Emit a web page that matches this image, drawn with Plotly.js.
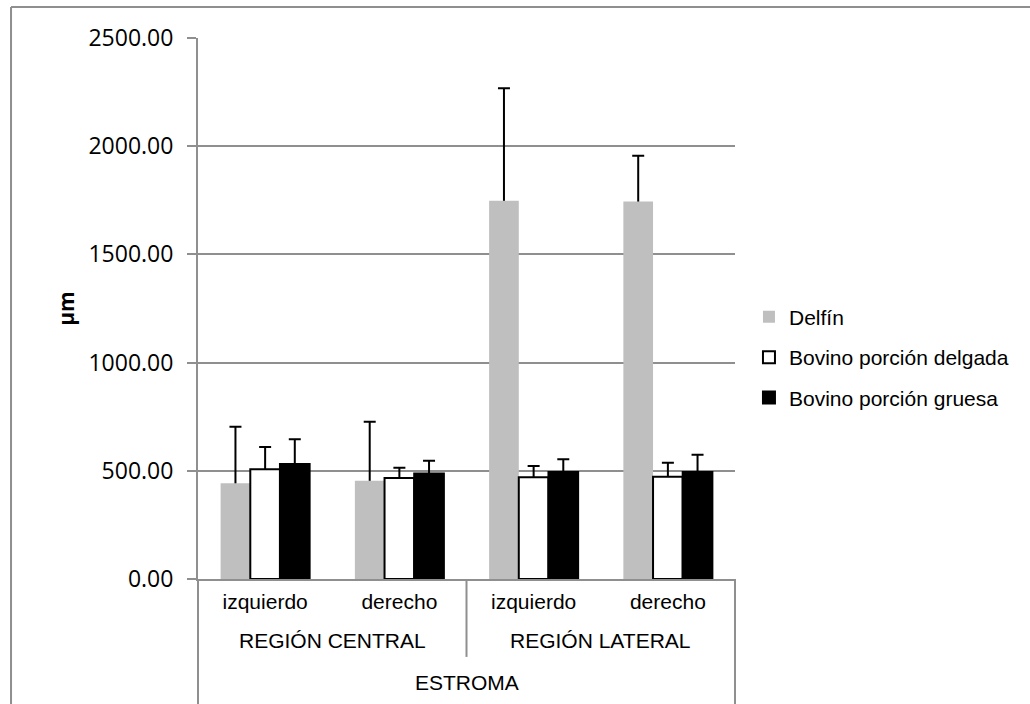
<!DOCTYPE html>
<html>
<head>
<meta charset="utf-8">
<script src="https://cdn.plot.ly/plotly-3.0.1.min.js"></script>
<style>
  html, body { margin: 0; padding: 0; background: #ffffff; }
  #chart { width: 1030px; height: 704px; }
</style>
</head>
<body>
<div id="chart"></div>
<script>
// ---- data ----
const regions = ["REGIÓN CENTRAL", "REGIÓN CENTRAL", "REGIÓN LATERAL", "REGIÓN LATERAL"];
const sides = ["izquierdo", "derecho", "izquierdo", "derecho"];
const outerGroup = "ESTROMA";
const seriesNames = ["Delfín", "Bovino porción delgada", "Bovino porción gruesa"];

const delfin = [442, 454, 1748, 1744];
const delfinErr = [262, 273, 520, 212];
const delgada = [507, 467, 470, 473];
const delgadaErr = [103, 47, 52, 64];
const gruesa = [531, 488, 494, 494];
const gruesaErr = [115, 59, 59, 80];

const yTickVals = [0, 500, 1000, 1500, 2000, 2500];
const yTitle = "µm";

// ---- styling ----
const GRID = "#8f8f8f";
const LABEL_FONT = { family: "Liberation Sans, Arial, sans-serif", size: 21, color: "#000" };
const fills = ["#bfbfbf", "#ffffff", "#000000"];
const borders = ["#bfbfbf", "#000000", "#000000"];
const borderW = [0, 2, 2];
const SHOE_HIDE = 10; // lower end of whisker tucked inside the bar so it is hidden
const REGION_ROW_Y = -0.1146;  // paper y of region label row
const REGION_DIV_Y = -0.144;   // paper y where region divider ends
const OUTER_ROW_Y = -0.1904;   // paper y of outer group label
const OUTER_DIV_Y = -0.2311;   // paper y where outer bracket ends

const values = [delfin, delgada, gruesa];
const errs = [delfinErr, delgadaErr, gruesaErr];
const idx = sides.map((_, i) => i);  // category positions on the x axis

const traces = [];
// error bars on the base subplot (bars invisible)
values.forEach((v, i) => {
  traces.push({
    type: "bar", x: idx, y: v, xaxis: "x", yaxis: "y",
    marker: { color: "rgba(0,0,0,0)", line: { width: 0 } },
    showlegend: false, hoverinfo: "skip",
    error_y: {
      type: "data", symmetric: false, array: errs[i],
      arrayminus: errs[i].map(() => SHOE_HIDE),
      color: "#000000", thickness: 2, width: 6
    }
  });
});
// visible bars on overlay subplot (drawn above the whisker feet)
values.forEach((v, i) => {
  traces.push({
    type: "bar", x: idx, y: v, xaxis: "x2", yaxis: "y2",
    name: seriesNames[i], legendgroup: "g" + i,
    marker: { color: fills[i], line: { color: borders[i], width: borderW[i] } }
  });
});

// region grouping: label centres and dividers derived from the category list
const regionGroups = [];
regions.forEach((r, i) => {
  const last = regionGroups[regionGroups.length - 1];
  if (last && last.name === r) last.end = i;
  else regionGroups.push({ name: r, start: i, end: i });
});
const annotations = regionGroups.map(g => ({
  text: g.name, xref: "x", yref: "paper", x: (g.start + g.end) / 2, y: REGION_ROW_Y,
  xanchor: "center", yanchor: "middle", showarrow: false, font: LABEL_FONT
}));
annotations.push({
  text: outerGroup, xref: "paper", yref: "paper", x: 0.5, y: OUTER_ROW_Y,
  xanchor: "center", yanchor: "middle", showarrow: false, font: LABEL_FONT
});

const shapes = [
  // outer chart frame (left and top)
  { type: "line", xref: "paper", yref: "paper", x0: -0.3482, x1: -0.3482, y0: 1.0573, y1: -0.25, line: { color: GRID, width: 2 } },
  { type: "line", xref: "paper", yref: "paper", x0: -0.3482, x1: 1.56, y0: 1.0573, y1: 1.0573, line: { color: GRID, width: 2 } },
  // outer group bracket lines
  { type: "line", xref: "paper", yref: "paper", x0: 0, x1: 0, y0: 0, y1: OUTER_DIV_Y, line: { color: GRID, width: 2 } },
  { type: "line", xref: "paper", yref: "paper", x0: 1, x1: 1, y0: 0, y1: OUTER_DIV_Y, line: { color: GRID, width: 2 } }
];
regionGroups.slice(1).forEach(g => {
  shapes.push({ type: "line", xref: "x", yref: "paper", x0: g.start - 0.5, x1: g.start - 0.5,
    y0: 0, y1: REGION_DIV_Y, line: { color: GRID, width: 2 } });
});

const layout = {
  width: 1030, height: 704,
  margin: { l: 198, r: 295, t: 38, b: 125 },
  paper_bgcolor: "#ffffff", plot_bgcolor: "#ffffff",
  barmode: "group", bargap: 0.337, bargroupgap: 0,
  showlegend: true,
  legend: {
    x: 1.026, xanchor: "left", y: 0.41, yanchor: "middle",
    font: LABEL_FONT,
    traceorder: "grouped", tracegroupgap: 10, bgcolor: "rgba(0,0,0,0)"
  },
  xaxis: {
    range: [-0.5, 3.5], tickvals: idx, ticktext: sides,
    showline: true, linecolor: GRID, linewidth: 2,
    showgrid: false, zeroline: false, ticks: "", ticklabelstandoff: 3,
    tickfont: LABEL_FONT
  },
  xaxis2: { overlaying: "x", range: [-0.5, 3.5], visible: false },
  yaxis: {
    range: [0, 2500], tickvals: yTickVals, tickformat: ".2f",
    showline: true, linecolor: GRID, linewidth: 2,
    showgrid: true, gridcolor: GRID, gridwidth: 2, zeroline: false,
    ticks: "outside", ticklen: 9, tickwidth: 2, tickcolor: GRID, ticklabelstandoff: 9,
    tickfont: { family: "Open Sans, sans-serif", size: 23, color: "#000" },
    title: { text: yTitle, standoff: 8, font: { family: "Open Sans, sans-serif", size: 21, color: "#000", weight: "bold" } }
  },
  yaxis2: { overlaying: "y", range: [0, 2500], visible: false },
  annotations: annotations,
  shapes: shapes
};

Plotly.newPlot("chart", traces, layout, { displayModeBar: false, staticPlot: true });
</script>
</body>
</html>
